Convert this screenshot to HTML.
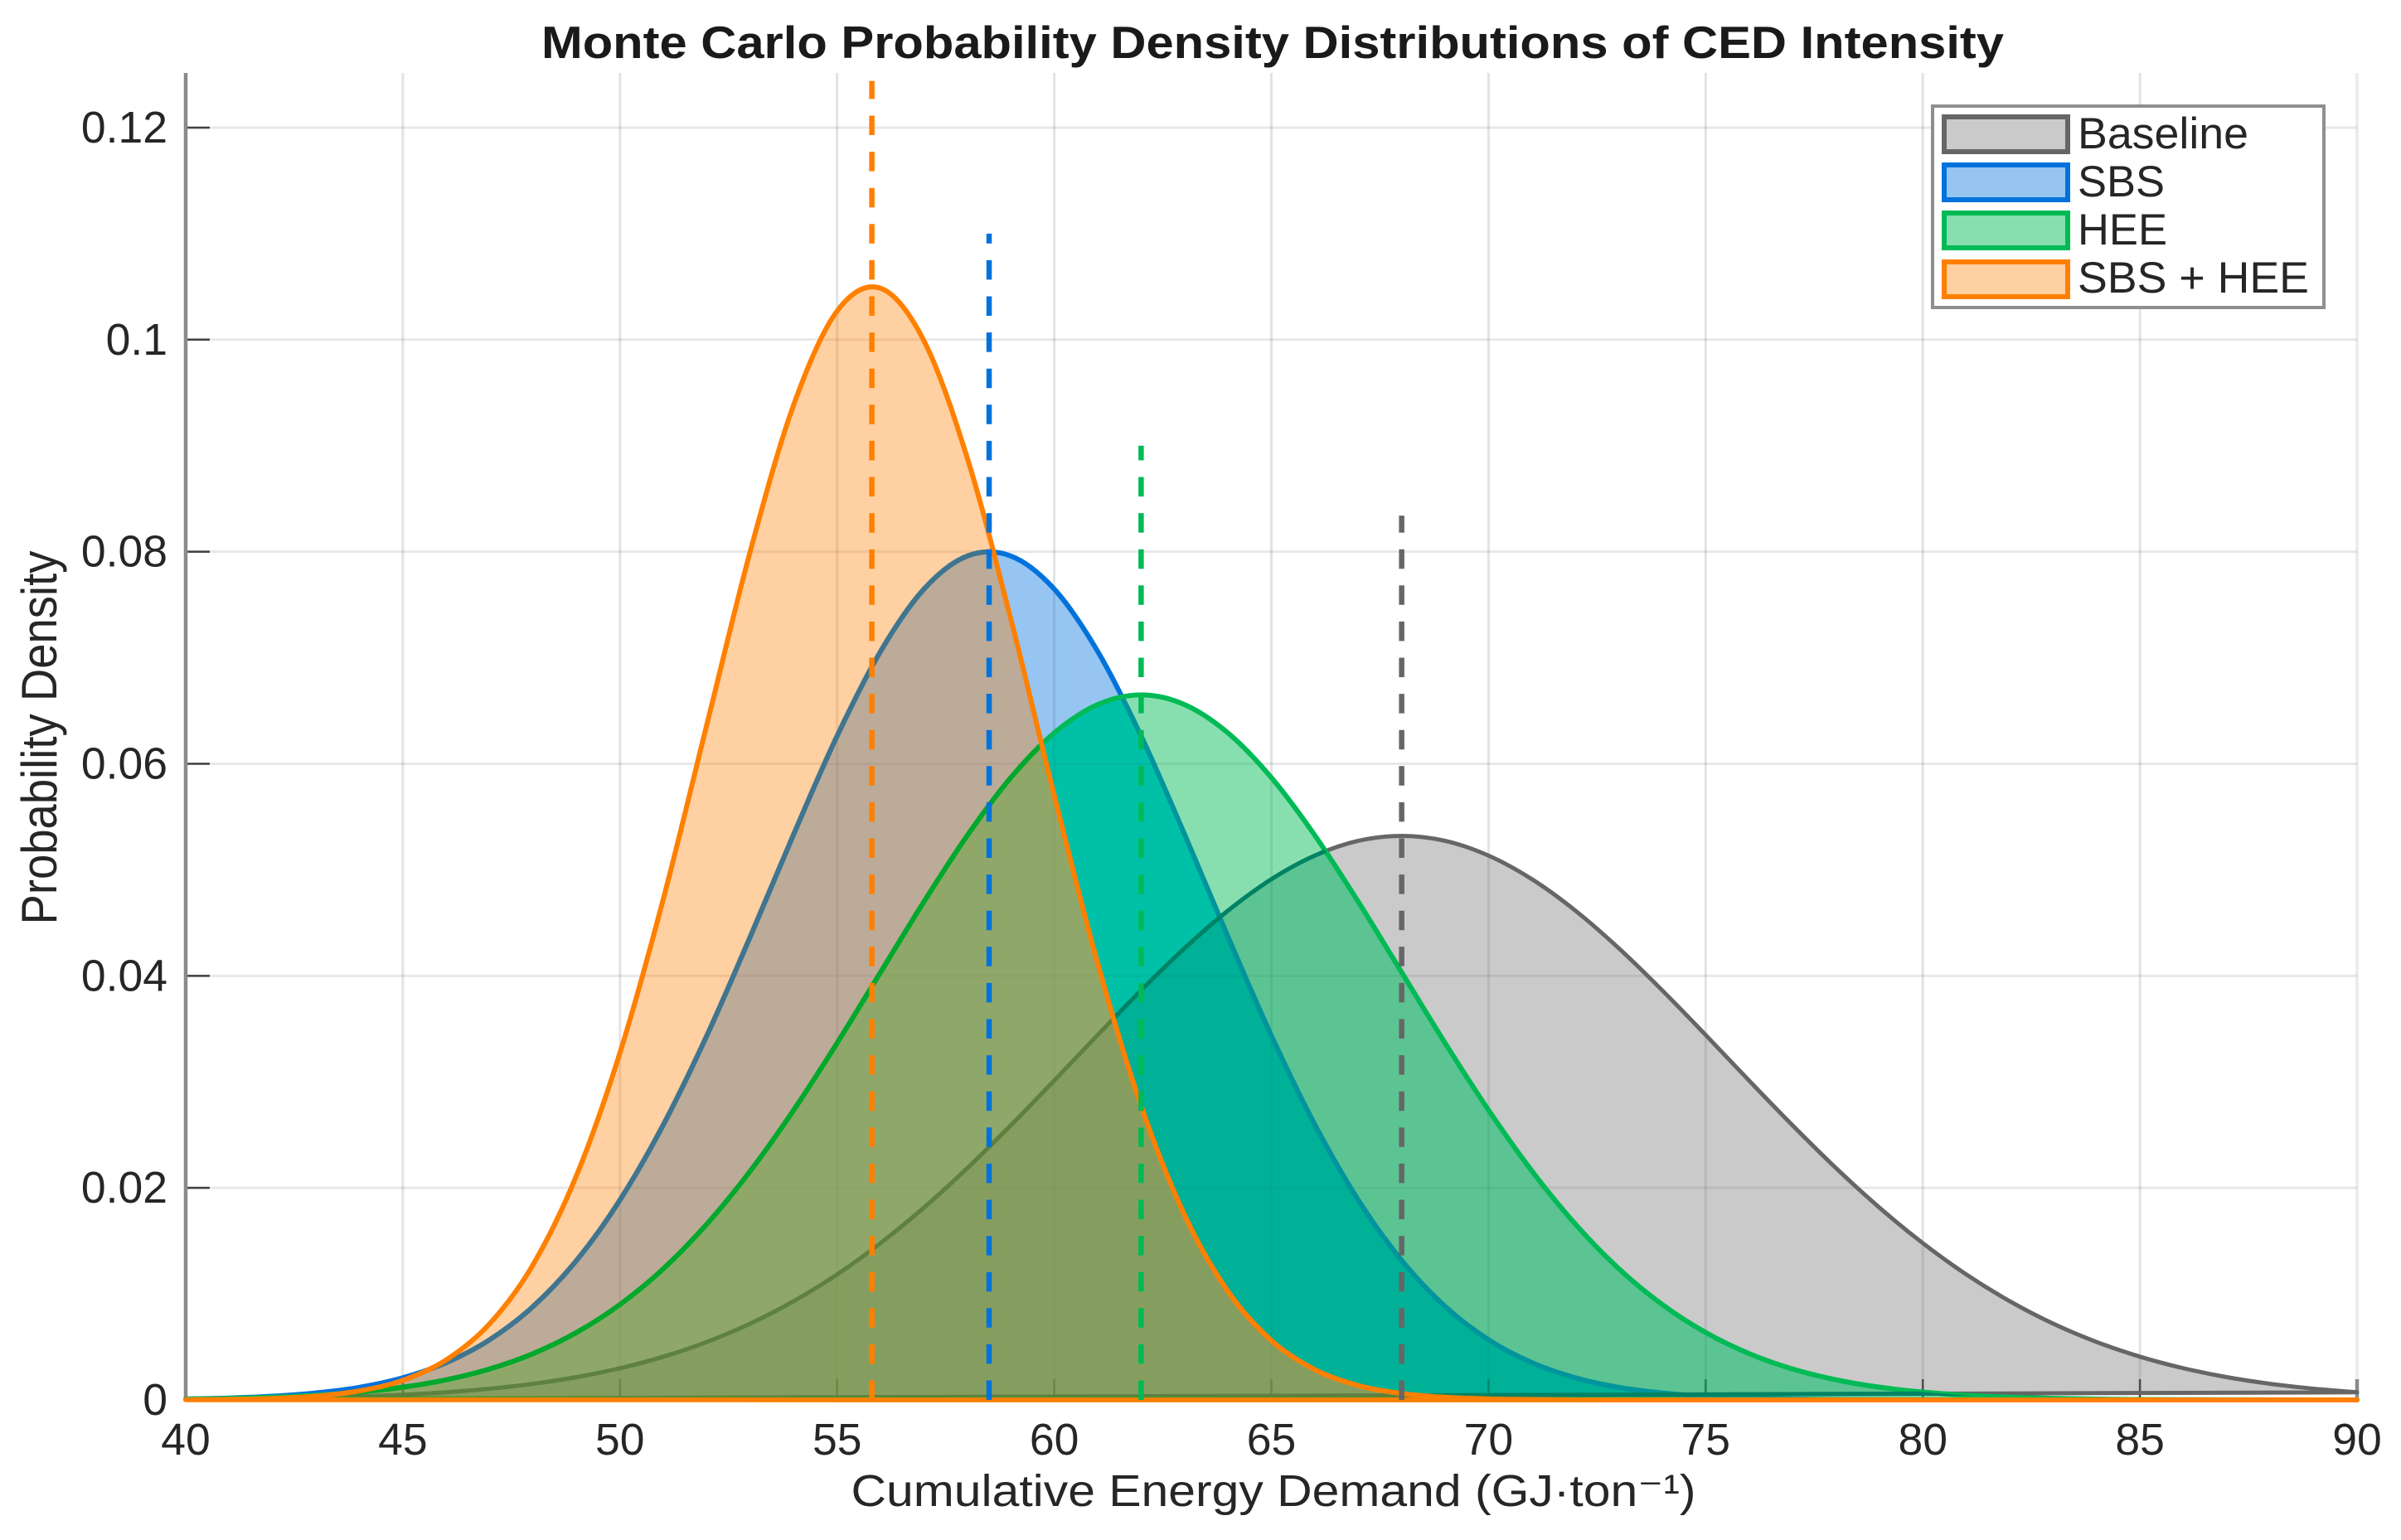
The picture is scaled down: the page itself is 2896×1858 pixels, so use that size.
<!DOCTYPE html>
<html lang="en">
<head>
<meta charset="utf-8">
<title>Monte Carlo Probability Density Distributions of CED Intensity</title>
<style>
html,body{margin:0;padding:0;background:#fff;width:2896px;height:1858px;overflow:hidden}
svg{display:block}
text{font-family:"Liberation Sans","DejaVu Sans",sans-serif;fill:#262626}
</style>
</head>
<body>
<svg id="chart" xmlns="http://www.w3.org/2000/svg" width="2896" height="1858" viewBox="0 0 2896 1858">
  <rect x="0" y="0" width="2896" height="1858" fill="#ffffff"/>
  <defs id="defs"></defs>
  <g id="grid"></g>
  <g id="axes"></g>
  <g id="series"></g>
  <g id="means"></g>
  <text x="1535" y="70" font-size="55" font-weight="bold" text-anchor="middle" textLength="1764" lengthAdjust="spacingAndGlyphs" style="fill:#1a1a1a">Monte Carlo Probability Density Distributions of CED Intensity</text>
  <text x="1536" y="1817" font-size="54" text-anchor="middle" textLength="1019" lengthAdjust="spacingAndGlyphs">Cumulative Energy Demand (GJ·ton⁻¹)</text>
  <text transform="translate(68 890) rotate(-90)" font-size="60" text-anchor="middle" textLength="451" lengthAdjust="spacingAndGlyphs">Probability Density</text>
  <g>
    <rect x="2331" y="128" width="472" height="243" fill="#ffffff" stroke="#8f8f8f" stroke-width="4"/>
    <g>
      <rect x="2345" y="141" width="149" height="42" fill="#666666" fill-opacity="0.35" stroke="#666666" stroke-width="6"/>
      <text x="2506" y="179" font-size="53" textLength="206" lengthAdjust="spacingAndGlyphs">Baseline</text>
    </g>
    <g>
      <rect x="2345" y="199" width="149" height="42" fill="#0072dc" fill-opacity="0.41" stroke="#0072dc" stroke-width="6"/>
      <text x="2506" y="237" font-size="53" textLength="105" lengthAdjust="spacingAndGlyphs">SBS</text>
    </g>
    <g>
      <rect x="2345" y="257" width="149" height="42" fill="#00ba55" fill-opacity="0.47" stroke="#00ba55" stroke-width="6"/>
      <text x="2506" y="295" font-size="53" textLength="108" lengthAdjust="spacingAndGlyphs">HEE</text>
    </g>
    <g>
      <rect x="2345" y="316" width="149" height="42" fill="#ff8000" fill-opacity="0.37" stroke="#ff8000" stroke-width="6"/>
      <text x="2506" y="353" font-size="53" textLength="279" lengthAdjust="spacingAndGlyphs">SBS + HEE</text>
    </g>
  </g>
</svg>
<script>
const xValues = [40,41,42,43,44,45,46,47,48,49,50,51,52,53,54,55,56,57,58,59,60,61,62,63,64,65,66,67,68,69,70,71,72,73,74,75,76,77,78,79,80,81,82,83,84,85,86,87,88,89,90];
const baselineDensity = [0.00005,0.00008,0.00013,0.00021,0.00032,0.00048,0.00072,0.00106,0.00152,0.00215,0.00299,0.00408,0.00547,0.00720,0.00932,0.01184,0.01479,0.01814,0.02187,0.02590,0.03012,0.03442,0.03863,0.04260,0.04615,0.04911,0.05134,0.05273,0.05320,0.05273,0.05134,0.04911,0.04615,0.04260,0.03863,0.03442,0.03012,0.02590,0.02187,0.01814,0.01479,0.01184,0.00932,0.00720,0.00547,0.00408,0.00299,0.00215,0.00152,0.00106,0.00072];
const sbsDensity = [0.00009,0.00018,0.00035,0.00066,0.00119,0.00209,0.00352,0.00568,0.00882,0.01316,0.01886,0.02597,0.03436,0.04369,0.05336,0.06262,0.07060,0.07648,0.07960,0.07960,0.07648,0.07060,0.06262,0.05336,0.04369,0.03436,0.02597,0.01886,0.01316,0.00882,0.00568,0.00352,0.00209,0.00119,0.00066,0.00035,0.00018,0.00009,0.00004,0.00002,0.00001,0,0,0,0,0,0,0,0,0,0];
const heeDensity = [0.00008,0.00015,0.00026,0.00044,0.00074,0.00120,0.00190,0.00292,0.00437,0.00636,0.00900,0.01238,0.01658,0.02159,0.02734,0.03366,0.04033,0.04699,0.05325,0.05869,0.06291,0.06558,0.06650,0.06558,0.06291,0.05869,0.05325,0.04699,0.04033,0.03366,0.02734,0.02159,0.01658,0.01238,0.00900,0.00636,0.00437,0.00292,0.00190,0.00120,0.00074,0.00044,0.00026,0.00015,0.00008,0.00004,0.00002,0.00001,0,0,0];
const sbsHeeDensity = [0.00002,0.00005,0.00014,0.00036,0.00085,0.00185,0.00378,0.00719,0.01277,0.02118,0.03275,0.04728,0.06369,0.08004,0.09386,0.10270,0.10485,0.09989,0.08880,0.07365,0.05701,0.04117,0.02774,0.01744,0.01023,0.00560,0.00286,0.00136,0.00061,0.00025,0.00010,0.00004,0.00001,0,0,0,0,0,0,0,0,0,0,0,0,0,0,0,0,0,0];
const seriesNames = ['baseline','sbs','hee','sbs-hee'];
const meanValues = [68,58.5,62,55.8];
const meanLineTops = [0.0834,0.110,0.090,0.1244];
const xTickValues = [40,45,50,55,60,65,70,75,80,85,90];
const xTickLabels = ['40','45','50','55','60','65','70','75','80','85','90'];
const yTickValues = [0,0.02,0.04,0.06,0.08,0.1,0.12];
const yTickLabels = ['0','0.02','0.04','0.06','0.08','0.1','0.12'];

const seriesData = [baselineDensity, sbsDensity, heeDensity, sbsHeeDensity];
const seriesColors = ['#666666','#0072dc','#00ba55','#ff8000'];
const seriesAlpha = [0.35,0.41,0.47,0.37];
const seriesWidths = [5,6,6,6];

const NS = 'http://www.w3.org/2000/svg';
const plot = {left:224, right:2843, top:90, bottom:1689, xMin:40, xMax:90, yMin:0, yMax:0.125};
function xScale(v){ return plot.left + (v - plot.xMin) / (plot.xMax - plot.xMin) * (plot.right - plot.left); }
function yScale(v){ return plot.bottom - (v - plot.yMin) / (plot.yMax - plot.yMin) * (plot.bottom - plot.top); }
function make(tag, attrs, parent){
  const node = document.createElementNS(NS, tag);
  for (const k in attrs) node.setAttribute(k, attrs[k]);
  parent.appendChild(node);
  return node;
}
function curvePath(xs, ys){
  const p = xs.map((x, i) => [xScale(x), yScale(ys[i])]);
  let d = 'M' + p[0][0].toFixed(2) + ' ' + p[0][1].toFixed(2);
  for (let i = 0; i < p.length - 1; i++) {
    const a = p[Math.max(i - 1, 0)], b = p[i], c = p[i + 1], e = p[Math.min(i + 2, p.length - 1)];
    d += 'C' + (b[0] + (c[0] - a[0]) / 6).toFixed(2) + ' ' + (b[1] + (c[1] - a[1]) / 6).toFixed(2) + ' ' +
         (c[0] - (e[0] - b[0]) / 6).toFixed(2) + ' ' + (c[1] - (e[1] - b[1]) / 6).toFixed(2) + ' ' +
         c[0].toFixed(2) + ' ' + c[1].toFixed(2);
  }
  return d + 'Z';
}

const gridG = document.getElementById('grid');
const axesG = document.getElementById('axes');
const seriesG = document.getElementById('series');
const meansG = document.getElementById('means');
const defsEl = document.getElementById('defs');

xTickValues.forEach(function(v, i){
  const last = i === xTickValues.length - 1;
  const line = make('line', {x1:xScale(v), x2:xScale(v), y1:plot.top - 2, y2:plot.bottom, stroke:'#000', 'stroke-opacity': last ? 0.07 : 0.11, 'stroke-width': last ? 4 : 3}, gridG);
  
  
  const tick = make('line', {x1:xScale(v), x2:xScale(v), y1:plot.bottom, y2:plot.bottom - 25, stroke: last ? '#8a8a8a' : '#404040', 'stroke-width': last ? 4.5 : 2.5}, axesG);
  
  
  const label = make('text', {x:xScale(v), y:1755, 'font-size':53.5, 'text-anchor':'middle'}, axesG);
  label.textContent = xTickLabels[i];
  
  
});
yTickValues.forEach(function(v, i){
  const line = make('line', {x1:plot.left, x2:plot.right, y1:yScale(v), y2:yScale(v), stroke:'#000', 'stroke-opacity':0.09, 'stroke-width':3}, gridG);
  
  
  const tick = make('line', {x1:plot.left, x2:plot.left + 29, y1:yScale(v), y2:yScale(v), stroke:'#404040', 'stroke-width':2.5}, axesG);
  
  
  const label = make('text', {x:202, y:yScale(v) + 18, 'font-size':53.5, 'text-anchor':'end'}, axesG);
  label.textContent = yTickLabels[i];
  
  
});
const yAxisLine = make('line', {x1:plot.left, x2:plot.left, y1:plot.top - 2, y2:plot.bottom + 2, stroke:'#8a8a8a', 'stroke-width':4.5}, axesG);


const xAxisLine = make('line', {x1:plot.left, x2:plot.right, y1:plot.bottom, y2:plot.bottom, stroke:'#8a8a8a', 'stroke-width':4.5}, axesG);



const paths = seriesData.map(function(values){ return curvePath(xValues, values); });
const outsideOrange = 'M0 0H2896V1858H0Z' + paths[3];

['clip-gray','clip-sbs','clip-hee','clip-orange'].forEach(function(id, i){
  const cp = make('clipPath', {id:id}, defsEl);
  make('path', {d:paths[i]}, cp);
});

/* the three lower patches */
[0,1,2].forEach(function(i){
  const curve = make('path', {d:paths[i], fill:seriesColors[i], 'fill-opacity':seriesAlpha[i], stroke:seriesColors[i], 'stroke-width':seriesWidths[i], 'stroke-linejoin':'round'}, seriesG);
  
  
});

/* overlap colouring of the reference: red channel collapses where patches stack outside the orange patch */
const tealTint = make('g', {'clip-path':'url(#clip-sbs)', style:'mix-blend-mode:multiply'}, seriesG);


make('path', {d:outsideOrange, 'fill-rule':'evenodd', fill:'#00ffff', 'clip-path':'url(#clip-hee)'}, tealTint);

const grayGreenTint = make('g', {'clip-path':'url(#clip-gray)', style:'mix-blend-mode:multiply'}, seriesG);


make('path', {d:outsideOrange, 'fill-rule':'evenodd', fill:'#daffff', 'clip-path':'url(#clip-hee)'}, grayGreenTint);

const grayUnderGreen = make('g', {'clip-path':'url(#clip-hee)'}, seriesG);


make('path', {d:paths[0], fill:'none', stroke:'#008264', 'stroke-width':seriesWidths[0]}, grayUnderGreen);

/* orange fill, then the lines it covers, then the orange outline */
const orangeFill = make('path', {d:paths[3], fill:seriesColors[3], 'fill-opacity':seriesAlpha[3], stroke:'none'}, seriesG);



const underOrange = make('g', {'clip-path':'url(#clip-orange)'}, seriesG);


make('path', {d:paths[1], fill:'none', stroke:'#3f7590', 'stroke-width':seriesWidths[1]}, underOrange);
make('path', {d:paths[2], fill:'none', stroke:'#00a82c', 'stroke-width':seriesWidths[2]}, underOrange);

const orangeLine = make('path', {d:paths[3], fill:'none', stroke:seriesColors[3], 'stroke-width':seriesWidths[3], 'stroke-linejoin':'round'}, seriesG);



seriesNames.forEach(function(name, i){
  const line = make('line', {x1:xScale(meanValues[i]), x2:xScale(meanValues[i]), y1:yScale(0), y2:yScale(meanLineTops[i]), stroke:seriesColors[i], 'stroke-width':6.5, 'stroke-dasharray':'23.5 20.1'}, meansG);
  
  
});
</script>
</body>
</html>
